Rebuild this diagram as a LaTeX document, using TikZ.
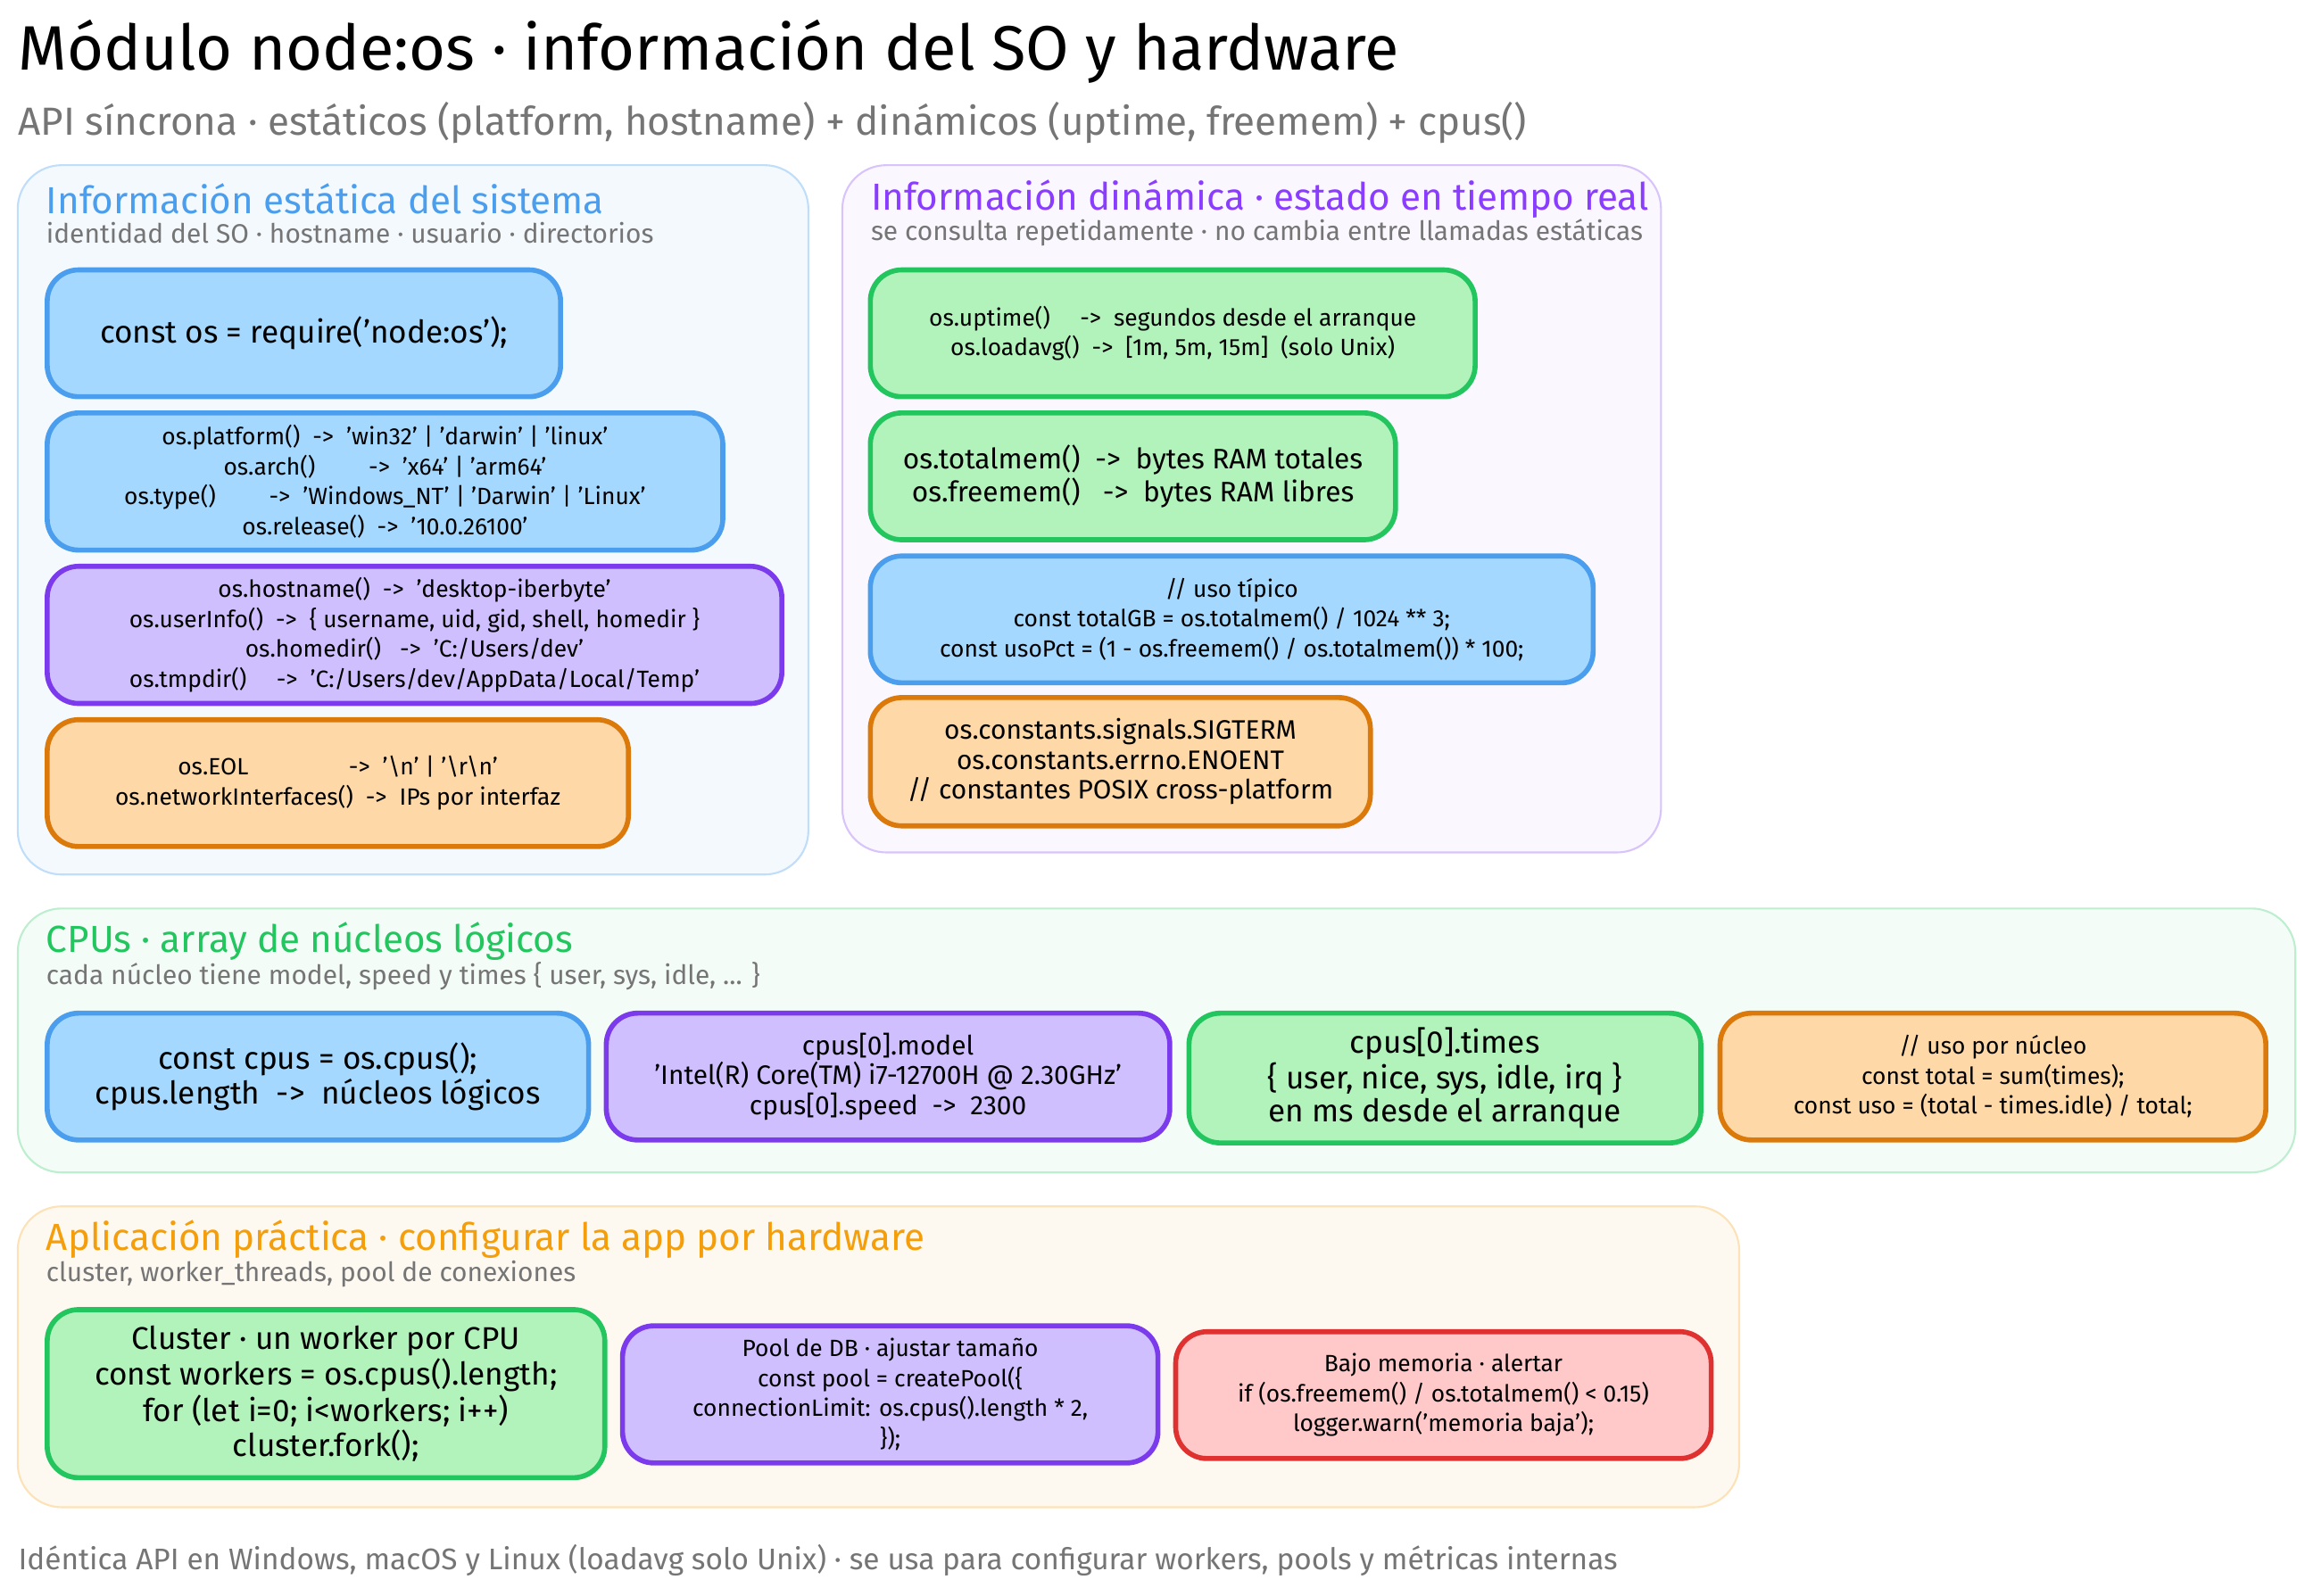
\documentclass[tikz,border=0pt]{standalone}
\usepackage{fontspec}
\defaultfontfeatures{}
\setmainfont{Fira Sans}
\usetikzlibrary{positioning,calc}
\definecolor{bluefill}{HTML}{A5D8FF}\definecolor{bluedraw}{HTML}{4A9EED}
\definecolor{violetfill}{HTML}{D0BFFF}\definecolor{violetdraw}{HTML}{7C3AED}
\definecolor{greenfill}{HTML}{B2F2BB}\definecolor{greendraw}{HTML}{22C55E}
\definecolor{orangefill}{HTML}{FFD8A8}\definecolor{orangedraw}{HTML}{DB7A0B}
\definecolor{redfill}{HTML}{FFC9C9}\definecolor{reddraw}{HTML}{E03131}
\definecolor{titleblue}{HTML}{4A9EED}\definecolor{titleviolet}{HTML}{8B3DFF}
\definecolor{titlegreen}{HTML}{22C55E}\definecolor{titleorange}{HTML}{F59E0B}
\definecolor{subgray}{HTML}{757575}
\tikzset{
  panel/.style={rounded corners=14pt, line width=0.6pt},
  card/.style={rounded corners=10pt, line width=1.6pt},
  cardtext/.style={align=center, font=\fontsize{7.5}{9.5}\selectfont},
  paneltitle/.style={anchor=west, inner sep=0pt, font=\fontsize{12}{14}\selectfont},
  panelsub/.style={anchor=west, inner sep=0pt, text=subgray, font=\fontsize{8.5}{10}\selectfont}
}
% draws a card with its text in the middle
\newcommand{\card}[6]{%
  \draw[card, fill=#2fill, draw=#2draw] (#3) rectangle (#4);
  \node[cardtext] (#1) at ($(#3)!0.5!(#4)$) {#6};}
\begin{document}
\begin{tikzpicture}[x=0.01653cm, y=-0.01653cm]
\useasboundingbox (0,0) rectangle (1568,1082);

%Heading
\node (title) [anchor=west, inner sep=0pt, font=\fontsize{20}{24}\selectfont] at (12,35) {Módulo node:os · información del SO y hardware};
\node (subtitle) [anchor=west, inner sep=0pt, text=subgray, font=\fontsize{12.5}{15}\selectfont] at (12,83) {API síncrona · estáticos (platform, hostname) + dinámicos (uptime, freemem) + cpus()};

%Panels
\draw[panel, fill=bluedraw!6, draw=bluedraw!35] (12,112) rectangle (548,593);
\node (statictitle) [paneltitle, text=titleblue] at (31,135) {Información estática del sistema};
\node (staticsub) [panelsub] at (31,158) {identidad del SO · hostname · usuario · directorios};

\draw[panel, fill=titleviolet!4, draw=violetdraw!30] (571,112) rectangle (1126,578);
\node (dyntitle) [paneltitle, text=titleviolet] at (590,135) {Información dinámica · estado en tiempo real};
\node (dynsub) [panelsub] at (590,158) {se consulta repetidamente · no cambia entre llamadas estáticas};

\draw[panel, fill=greendraw!5, draw=greendraw!30] (12,616) rectangle (1556,795);
\node (cputitle) [paneltitle, text=titlegreen] at (31,638) {CPUs · array de núcleos lógicos};
\node (cpusub) [panelsub] at (31,662) {cada núcleo tiene model, speed y times \{ user, sys, idle, ... \}};

\draw[panel, fill=titleorange!6, draw=titleorange!30] (12,818) rectangle (1179,1022);
\node (apptitle) [paneltitle, text=titleorange] at (31,840) {Aplicación práctica · configurar la app por hardware};
\node (appsub) [panelsub] at (31,864) {cluster, worker\_threads, pool de conexiones};

%Static cards
\card{require}{blue}{32,183}{380,269}{}{\fontsize{10}{12}\selectfont const os = require('node:os');}
\card{platform}{blue}{32,280}{490,373}{}{os.platform() \ -> \ 'win32' | 'darwin' | 'linux'\\ os.arch() \qquad -> \ 'x64' | 'arm64'\\ os.type() \qquad -> \ 'Windows\_NT' | 'Darwin' | 'Linux'\\ os.release() \ -> \ '10.0.26100'}
\card{hostname}{violet}{32,384}{530,477}{}{os.hostname() \ -> \ 'desktop-iberbyte'\\ os.userInfo() \ -> \ \{ username, uid, gid, shell, homedir \}\\ os.homedir() \ \ -> \ 'C:/Users/dev'\\ os.tmpdir() \quad -> \ 'C:/Users/dev/AppData/Local/Temp'}
\card{eol}{orange}{32,488}{426,574}{}{os.EOL \qquad\qquad -> \ '\textbackslash n' | '\textbackslash r\textbackslash n'\\ os.networkInterfaces() \ -> \ IPs por interfaz}

%Dynamic cards
\card{uptime}{green}{590,183}{1000,269}{}{os.uptime() \quad -> \ segundos desde el arranque\\ os.loadavg() \ -> \ [1m, 5m, 15m] \ (solo Unix)}
\card{totalmem}{green}{590,280}{946,366}{}{\fontsize{9}{11.5}\selectfont os.totalmem() \ -> \ bytes RAM totales\\ \fontsize{9}{11.5}\selectfont os.freemem() \ \ -> \ bytes RAM libres}
\card{usage}{blue}{590,377}{1080,463}{}{// uso típico\\ const totalGB = os.totalmem() / 1024 ** 3;\\ const usoPct = (1 - os.freemem() / os.totalmem()) * 100;}
\card{constants}{orange}{590,473}{929,560}{}{\fontsize{8.5}{11.5}\selectfont os.constants.signals.SIGTERM\\ \fontsize{8.5}{11.5}\selectfont os.constants.errno.ENOENT\\ \fontsize{8.5}{11.5}\selectfont // constantes POSIX cross-platform}

%CPU cards
\card{cpus}{blue}{32,687}{399,773}{}{\fontsize{10}{13.5}\selectfont const cpus = os.cpus();\\ \fontsize{10}{13.5}\selectfont cpus.length \ -> \ núcleos lógicos}
\card{model}{violet}{411,687}{793,773}{}{\fontsize{8.5}{11}\selectfont cpus[0].model\\ \fontsize{8.5}{11}\selectfont 'Intel(R) Core(TM) i7-12700H @ 2.30GHz'\\ \fontsize{8.5}{11}\selectfont cpus[0].speed \ -> \ 2300}
\card{times}{green}{806,687}{1153,775}{}{\fontsize{10}{13}\selectfont cpus[0].times\\ \fontsize{10}{13}\selectfont \{ user, nice, sys, idle, irq \}\\ \fontsize{10}{13}\selectfont en ms desde el arranque}
\card{perCore}{orange}{1166,687}{1536,773}{}{// uso por núcleo\\ const total = sum(times);\\ const uso = (total - times.idle) / total;}

%App cards
\card{cluster}{green}{32,888}{410,1002}{}{\fontsize{10}{13}\selectfont Cluster · un worker por CPU\\ \fontsize{10}{13}\selectfont const workers = os.cpus().length;\\ \fontsize{10}{13}\selectfont for (let i=0; i<workers; i++)\\ \fontsize{10}{13}\selectfont cluster.fork();}
\card{pool}{violet}{422,899}{785,992}{}{Pool de DB · ajustar tamaño\\ const pool = createPool(\{\\ connectionLimit: os.cpus().length * 2,\\ \});}
\card{lowmem}{red}{797,903}{1160,989}{}{Bajo memoria · alertar\\ if (os.freemem() / os.totalmem() < 0.15)\\ logger.warn('memoria baja');}

%Footer
\node (footer) [anchor=west, inner sep=0pt, text=subgray, font=\fontsize{9.5}{12}\selectfont] at (12,1058) {Idéntica API en Windows, macOS y Linux (loadavg solo Unix) · se usa para configurar workers, pools y métricas internas};
\end{tikzpicture}
\end{document}
